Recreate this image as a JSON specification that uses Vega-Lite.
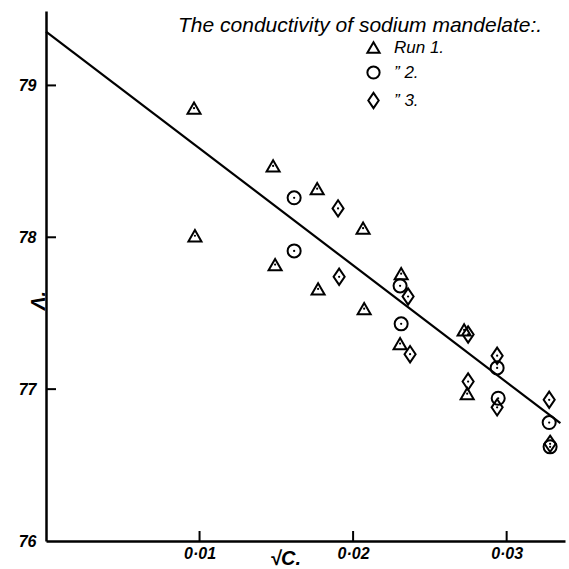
{
  "$schema": "https://vega.github.io/schema/vega-lite/v6.json",
  "width": 519,
  "height": 530,
  "autosize": {"type": "none"},
  "padding": {"left": 46, "top": 11, "right": 4, "bottom": 28},
  "background": "white",
  "title": {
    "text": "The conductivity of sodium mandelate:.",
    "anchor": "start",
    "frame": "group",
    "orient": "top",
    "offset": 0,
    "dx": 132,
    "dy": 25,
    "font": "Liberation Sans",
    "fontStyle": "italic",
    "fontWeight": "normal",
    "fontSize": 21,
    "color": "black"
  },
  "datasets": {
    "pts": [
      {"x": 0.00964, "y": 78.85, "run": "Run 1."},
      {"x": 0.0097, "y": 78.01, "run": "Run 1."},
      {"x": 0.01479, "y": 78.47, "run": "Run 1."},
      {"x": 0.01492, "y": 77.82, "run": "Run 1."},
      {"x": 0.01766, "y": 78.32, "run": "Run 1."},
      {"x": 0.01772, "y": 77.66, "run": "Run 1."},
      {"x": 0.02065, "y": 78.06, "run": "Run 1."},
      {"x": 0.02072, "y": 77.53, "run": "Run 1."},
      {"x": 0.02313, "y": 77.76, "run": "Run 1."},
      {"x": 0.02306, "y": 77.3, "run": "Run 1."},
      {"x": 0.02723, "y": 77.39, "run": "Run 1."},
      {"x": 0.02743, "y": 76.97, "run": "Run 1."},
      {"x": 0.01616, "y": 78.26, "run": "\u201d  2."},
      {"x": 0.01616, "y": 77.91, "run": "\u201d  2."},
      {"x": 0.02306, "y": 77.68, "run": "\u201d  2."},
      {"x": 0.02313, "y": 77.43, "run": "\u201d  2."},
      {"x": 0.02938, "y": 77.14, "run": "\u201d  2."},
      {"x": 0.02945, "y": 76.94, "run": "\u201d  2."},
      {"x": 0.03277, "y": 76.78, "run": "\u201d  2."},
      {"x": 0.03283, "y": 76.62, "run": "\u201d  2."},
      {"x": 0.01902, "y": 78.19, "run": "\u201d  3."},
      {"x": 0.01909, "y": 77.74, "run": "\u201d  3."},
      {"x": 0.02358, "y": 77.61, "run": "\u201d  3."},
      {"x": 0.02371, "y": 77.23, "run": "\u201d  3."},
      {"x": 0.02749, "y": 77.36, "run": "\u201d  3."},
      {"x": 0.02938, "y": 77.22, "run": "\u201d  3."},
      {"x": 0.02749, "y": 77.05, "run": "\u201d  3."},
      {"x": 0.02938, "y": 76.88, "run": "\u201d  3."},
      {"x": 0.03277, "y": 76.93, "run": "\u201d  3."},
      {"x": 0.03283, "y": 76.64, "run": "\u201d  3."}
    ],
    "fit": [
      {"x": 0, "y": 79.355},
      {"x": 0.0335, "y": 76.776}
    ],
    "xticks": [{"v": 0.01}, {"v": 0.02}, {"v": 0.03}],
    "yticks": [{"v": 77}, {"v": 78}, {"v": 79}]
  },
  "config": {
    "view": {"stroke": null},
    "axis": {
      "domainColor": "black",
      "domainWidth": 2.5,
      "ticks": false,
      "grid": false,
      "labelFont": "Liberation Sans",
      "labelFontStyle": "italic",
      "labelFontWeight": "bold",
      "labelFontSize": 16,
      "labelColor": "black",
      "titleFont": "Liberation Sans",
      "titleFontStyle": "italic",
      "titleFontWeight": "bold",
      "titleFontSize": 20,
      "titleColor": "black"
    }
  },
  "layer": [
    {
      "data": {"name": "fit"},
      "mark": {"type": "line", "color": "black", "strokeWidth": 2.2, "clip": false},
      "encoding": {
        "x": {
          "field": "x", "type": "quantitative",
          "scale": {"domain": [0, 0.0338], "nice": false, "zero": false},
          "axis": {
            "values": [0.01, 0.02, 0.03],
            "labelExpr": "replace(format(datum.value, '.2f'), '.', '\u00b7')",
            "labelPadding": 4,
            "title": "\u221aC.",
            "titleX": 239,
            "titleY": 17,
            "titleBaseline": "middle"
          }
        },
        "y": {
          "field": "y", "type": "quantitative",
          "scale": {"domain": [76, 79.49], "nice": false, "zero": false},
          "axis": {
            "values": [76, 77, 78, 79],
            "format": "d",
            "labelPadding": 10,
            "title": "\u039b.",
            "titleX": -8,
            "titleY": 289,
            "titleAngle": 270,
            "titleBaseline": "middle"
          }
        }
      }
    },
    {
      "data": {"name": "xticks"},
      "mark": {"type": "tick", "orient": "vertical", "color": "black", "thickness": 2, "size": 10, "yOffset": -5, "opacity": 1},
      "encoding": {
        "x": {"field": "v", "type": "quantitative"},
        "y": {"datum": 76}
      }
    },
    {
      "data": {"name": "yticks"},
      "mark": {"type": "tick", "orient": "horizontal", "color": "black", "thickness": 2, "size": 10, "xOffset": 5, "opacity": 1},
      "encoding": {
        "x": {"datum": 0},
        "y": {"field": "v", "type": "quantitative"}
      }
    },
    {
      "data": {"name": "pts"},
      "mark": {"type": "point", "filled": false, "stroke": "black", "strokeWidth": 2, "opacity": 1},
      "encoding": {
        "x": {"field": "x", "type": "quantitative"},
        "y": {"field": "y", "type": "quantitative"},
        "shape": {
          "field": "run", "type": "nominal",
          "scale": {
            "domain": ["Run 1.", "\u201d  2.", "\u201d  3."],
            "range": ["triangle-up", "circle", "M0,-1.25L0.85,0L0,1.25L-0.85,0Z"]
          },
          "legend": {
            "orient": "none",
            "legendX": 319,
            "legendY": 28,
            "title": null,
            "padding": 0,
            "rowPadding": 5,
            "labelOffset": 12,
            "labelFont": "Liberation Sans",
            "labelFontStyle": "italic",
            "labelFontSize": 17,
            "labelColor": "black",
            "symbolStrokeColor": "black",
            "symbolStrokeWidth": 2,
            "symbolSize": 150
          }
        },
        "size": {"value": 170}
      }
    },
    {
      "data": {"name": "pts"},
      "mark": {"type": "point", "filled": true, "color": "black", "shape": "circle", "size": 5, "opacity": 1},
      "encoding": {
        "x": {"field": "x", "type": "quantitative"},
        "y": {"field": "y", "type": "quantitative"}
      }
    }
  ]
}
